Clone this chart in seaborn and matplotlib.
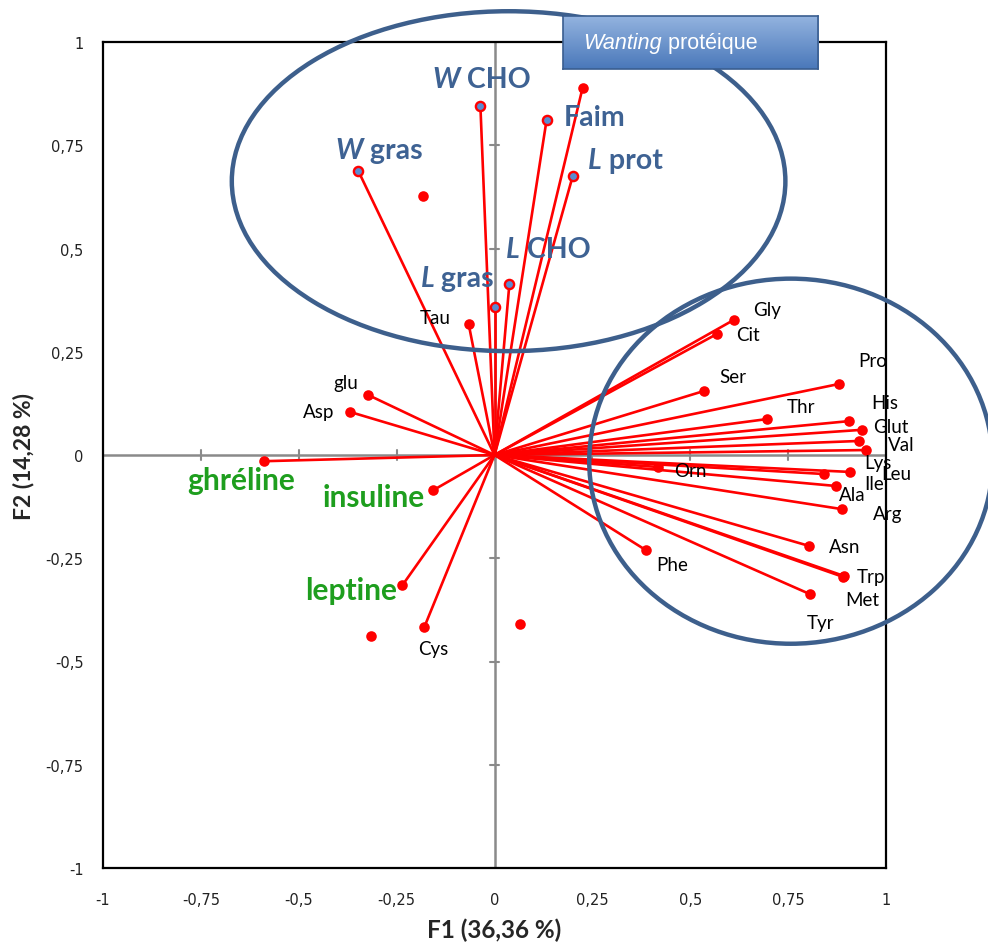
import numpy as np
import pandas as pd
import matplotlib
matplotlib.use("Agg")
import matplotlib.pyplot as plt
import seaborn as sns
from matplotlib.patches import Ellipse

# ---------------- data ----------------
behav_prefix = ["W", "", "L", "W", "L", "L"]
behav_names = [" CHO", "Faim", " prot", " gras", " CHO", " gras"]
behav_f1 = [-0.036, 0.133, 0.200, -0.348, 0.038, 0.000]
behav_f2 = [0.845, 0.811, 0.676, 0.688, 0.414, 0.358]

aa_names = ["Tau", "Gly", "Cit", "Ser", "Pro", "Thr", "His", "Glut", "Val", "Leu",
            "Lys", "Ile", "Ala", "Arg", "Asn", "Trp", "Met", "Tyr", "Orn", "Phe",
            "glu", "Asp", "Cys", ""]
aa_f1 = [-0.066, 0.611, 0.568, 0.535, 0.880, 0.696, 0.905, 0.939, 0.931, 0.949,
         0.908, 0.872, 0.841, 0.887, 0.803, 0.893, 0.890, 0.806, 0.417, 0.386,
         -0.322, -0.368, -0.179, 0.225]
aa_f2 = [0.317, 0.327, 0.293, 0.155, 0.172, 0.087, 0.082, 0.061, 0.034, 0.012,
         -0.041, -0.075, -0.046, -0.131, -0.220, -0.293, -0.295, -0.337, -0.029, -0.230,
         0.145, 0.104, -0.416, 0.889]

horm_names = ["ghréline", "insuline", "leptine"]
horm_f1 = [-0.588, -0.156, -0.235]
horm_f2 = [-0.015, -0.085, -0.315]

extra_f1 = [-0.182, -0.315, 0.066]
extra_f2 = [0.627, -0.438, -0.409]

ticks = [-1, -0.75, -0.5, -0.25, 0, 0.25, 0.5, 0.75, 1]
tick_labels = ["-1", "-0,75", "-0,5", "-0,25", "0", "0,25", "0,5", "0,75", "1"]
xlabel = "F1 (36,36 %)"
ylabel = "F2 (14,28 %)"
box_text_it = "Wanting"
box_text = " protéique"

# label offsets (pixels) -- layout only
aa_off = {"Tau": (-33, 7), "Gly": (33, 10), "Cit": (31, -1), "Ser": (29, 14),
          "Pro": (34, 23), "Thr": (34, 13), "His": (36, 19), "Glut": (29, 3),
          "Val": (42, -4), "Leu": (30, -23), "Lys": (28, 9), "Ile": (38, 2),
          "Ala": (28, -21), "Arg": (46, -4), "Asn": (36, -1), "Trp": (27, 0),
          "Met": (19, -23), "Tyr": (10, -28), "Orn": (33, -4), "Phe": (27, -15),
          "glu": (-23, 13), "Asp": (-32, 1), "Cys": (9, -22)}
behav_off = [(-48, 19), (17, -5), (15, 8), (-23, 13), (-3, 27), (-74, 21)]
horm_off = [(-77, -28), (-111, -16), (-97, -14)]

# ---------------- style ----------------
sns.set_theme(style="white")
plt.rcParams["font.family"] = ["DejaVu Sans"]
RED = "#FF0000"
BLUE_TXT = "#3E6293"
GREEN = "#1E9E1E"
ELL = "#3D5F8C"

fig = plt.figure(figsize=(9.88, 9.45), dpi=100)
ax = fig.add_axes([103 / 988, 1 - 869 / 945, 783 / 988, 826 / 945])
ax.set_xlim(-1, 1)
ax.set_ylim(-1, 1)

for s in ax.spines.values():
    s.set_color("black")
    s.set_linewidth(1.6)

# gray central axes with crossing tick marks
GRAY = "#8A8A8A"
ax.axhline(0, color=GRAY, lw=1.8, zorder=1)
ax.axvline(0, color=GRAY, lw=1.8, zorder=1)
for t in ticks:
    ax.plot([t, t], [-0.012, 0.012], color=GRAY, lw=1.5, zorder=1)
    ax.plot([-0.0125, 0.0125], [t, t], color=GRAY, lw=1.5, zorder=1)

# vectors
all_f1 = behav_f1 + aa_f1 + horm_f1
all_f2 = behav_f2 + aa_f2 + horm_f2
for x, y in zip(all_f1, all_f2):
    ax.plot([0, x], [0, y], color=RED, lw=1.9, zorder=2, solid_capstyle="round")

red_df = pd.DataFrame({"F1": aa_f1 + horm_f1 + extra_f1,
                       "F2": aa_f2 + horm_f2 + extra_f2})
sns.scatterplot(data=red_df, x="F1", y="F2", color=RED, s=58, edgecolor=RED,
                linewidth=0, ax=ax, zorder=3)
blue_df = pd.DataFrame({"F1": behav_f1, "F2": behav_f2})
sns.scatterplot(data=blue_df, x="F1", y="F2", color="#5B8BD0", s=44, edgecolor=RED,
                linewidth=1.7, ax=ax, zorder=3)

ax.set_xlim(-1, 1)
ax.set_ylim(-1, 1)
ax.set_xticks(ticks)
ax.set_yticks(ticks)
ax.set_xticklabels(tick_labels, fontsize=10.5, color="#222222")
ax.set_yticklabels(tick_labels, fontsize=10.5, color="#222222")
ax.tick_params(axis="both", length=0)
ax.tick_params(axis="y", pad=14)
ax.tick_params(axis="x", pad=17)
ax.set_xlabel(xlabel, fontsize=17.5, fontweight="bold", family="Lato", labelpad=8)
ax.set_ylabel(ylabel, fontsize=16.5, fontweight="bold", family="Lato", labelpad=8)

# amino acid labels
for n, x, y in zip(aa_names, aa_f1, aa_f2):
    if not n:
        continue
    dx, dy = aa_off[n]
    ax.annotate(n, (x, y), xytext=(dx, dy), textcoords="offset pixels",
                ha="center", va="center", fontsize=13.5, family="Lato",
                color="black", zorder=5)

renderer = fig.canvas.get_renderer()

def two_part(ax, x, y, dx, dy, p1, p2, color, size):
    w = 0
    if p1:
        t1 = ax.annotate(p1, (x, y), xytext=(dx, dy), textcoords="offset pixels",
                         ha="left", va="baseline", fontsize=size, family="Lato",
                         fontweight="bold", fontstyle="italic", color=color, zorder=5)
        w = t1.get_window_extent(renderer).width
    ax.annotate(p2, (x, y), xytext=(dx + w, dy), textcoords="offset pixels",
                ha="left", va="baseline", fontsize=size, family="Lato",
                fontweight="bold", color=color, zorder=5)

for p1, p2, x, y, (dx, dy) in zip(behav_prefix, behav_names, behav_f1, behav_f2, behav_off):
    two_part(ax, x, y, dx, dy, p1, p2, BLUE_TXT, 20.5)

for n, x, y, (dx, dy) in zip(horm_names, horm_f1, horm_f2, horm_off):
    two_part(ax, x, y, dx, dy, "", n, GREEN, 21.5)

# ellipses
ax.add_patch(Ellipse((0.036, 0.663), 1.414, 0.823, fill=False, ec=ELL, lw=3.2,
                     zorder=4, clip_on=False))
ax.add_patch(Ellipse((0.757, -0.015), 1.03, 0.884, fill=False, ec=ELL, lw=3.2,
                     zorder=4, clip_on=False))

# "Wanting protéique" box with gradient
bax = fig.add_axes([563 / 988, 1 - 70 / 945, 255 / 988, 53 / 945], zorder=10)
grad = np.linspace(0, 1, 100).reshape(-1, 1)
cmap = matplotlib.colors.LinearSegmentedColormap.from_list("g", ["#93B3DF", "#4A78BA"])
bax.imshow(grad, aspect="auto", cmap=cmap, extent=[0, 1, 0, 1], origin="upper")
bax.set_xticks([])
bax.set_yticks([])
for s in bax.spines.values():
    s.set_color("#3A5E90")
    s.set_linewidth(1.2)
t1 = bax.text(0.08, 0.5, box_text_it, transform=bax.transAxes, ha="left", va="center",
              fontsize=15.5, family="Liberation Sans", fontstyle="italic", color="white")
w = t1.get_window_extent(renderer).width
bax.annotate(box_text, (0.08, 0.5), xycoords="axes fraction", xytext=(w, 0),
             textcoords="offset pixels", ha="left", va="center", fontsize=15.5,
             family="Liberation Sans", color="white")

fig.savefig("out.png", dpi=100)
